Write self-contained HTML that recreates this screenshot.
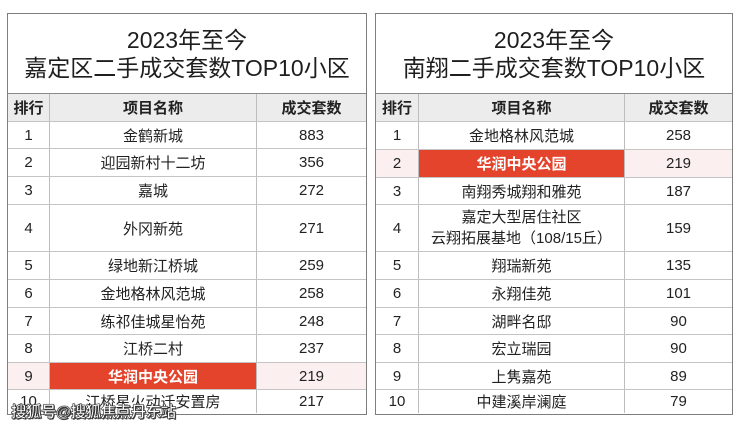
<!DOCTYPE html>
<html><head><meta charset="utf-8">
<style>
*{margin:0;padding:0;box-sizing:border-box}
html,body{width:740px;height:428px;background:#fff;overflow:hidden}
body{position:relative;font-family:"Liberation Sans","Noto Sans CJK SC",sans-serif;color:#222}
.tbl{position:absolute;top:13px;height:402px;border:1.5px solid #7d7d7d;background:#fff}
.title{position:absolute;left:0;right:0;top:0;height:80px;text-align:center;font-size:23px;line-height:28px;padding-top:12px;color:#1e1e1e;font-weight:400}
.row{position:absolute;left:0;right:0;display:flex;border-top:1px solid #c4c4c4}
.row.h{border-top:1.5px solid #8a8a8a;background:#ececec;font-weight:bold}
.c{display:flex;align-items:center;justify-content:center;text-align:center;font-size:15px;height:100%;border-right:1px solid #bdbdbd}
.c:last-child{border-right:none}
.hl{background:#fcefef}
.red{background:#e4442b;color:#fff;font-weight:bold}
.two{flex-direction:column;line-height:21px}
.wm{position:absolute;left:11px;top:400px;font-size:15.5px;font-weight:bold;color:#fff;-webkit-text-stroke:0.6px #333;text-shadow:0 0 1px #000,1px 1px 0 #444;letter-spacing:-0.5px}
</style></head><body>

<!-- LEFT TABLE -->
<div class="tbl" style="left:7px;width:360px">
  <div class="title">2023年至今<br>嘉定区二手成交套数TOP10小区</div>
  <div class="row h" style="top:79px;height:28px"><div class="c" style="width:42px">排行</div><div class="c" style="width:207px">项目名称</div><div class="c" style="flex:1">成交套数</div></div>
  <div class="row" style="top:107px;height:27px"><div class="c" style="width:42px">1</div><div class="c" style="width:207px">金鹤新城</div><div class="c" style="flex:1">883</div></div>
  <div class="row" style="top:134px;height:28px"><div class="c" style="width:42px">2</div><div class="c" style="width:207px">迎园新村十二坊</div><div class="c" style="flex:1">356</div></div>
  <div class="row" style="top:162px;height:28px"><div class="c" style="width:42px">3</div><div class="c" style="width:207px">嘉城</div><div class="c" style="flex:1">272</div></div>
  <div class="row" style="top:190px;height:47px"><div class="c" style="width:42px">4</div><div class="c" style="width:207px">外冈新苑</div><div class="c" style="flex:1">271</div></div>
  <div class="row" style="top:237px;height:28px"><div class="c" style="width:42px">5</div><div class="c" style="width:207px">绿地新江桥城</div><div class="c" style="flex:1">259</div></div>
  <div class="row" style="top:265px;height:28px"><div class="c" style="width:42px">6</div><div class="c" style="width:207px">金地格林风范城</div><div class="c" style="flex:1">258</div></div>
  <div class="row" style="top:293px;height:27px"><div class="c" style="width:42px">7</div><div class="c" style="width:207px">练祁佳城星怡苑</div><div class="c" style="flex:1">248</div></div>
  <div class="row" style="top:320px;height:28px"><div class="c" style="width:42px">8</div><div class="c" style="width:207px">江桥二村</div><div class="c" style="flex:1">237</div></div>
  <div class="row hl" style="top:348px;height:27px"><div class="c" style="width:42px">9</div><div class="c red" style="width:207px">华润中央公园</div><div class="c" style="flex:1">219</div></div>
  <div class="row" style="top:375px;height:24px"><div class="c" style="width:42px">10</div><div class="c" style="width:207px">江桥星火动迁安置房</div><div class="c" style="flex:1">217</div></div>
</div>

<!-- RIGHT TABLE -->
<div class="tbl" style="left:375px;width:358px">
  <div class="title">2023年至今<br>南翔二手成交套数TOP10小区</div>
  <div class="row h" style="top:79px;height:28px"><div class="c" style="width:43px">排行</div><div class="c" style="width:206px">项目名称</div><div class="c" style="flex:1">成交套数</div></div>
  <div class="row" style="top:107px;height:28px"><div class="c" style="width:43px">1</div><div class="c" style="width:206px">金地格林风范城</div><div class="c" style="flex:1">258</div></div>
  <div class="row hl" style="top:135px;height:28px"><div class="c" style="width:43px">2</div><div class="c red" style="width:206px">华润中央公园</div><div class="c" style="flex:1">219</div></div>
  <div class="row" style="top:163px;height:27px"><div class="c" style="width:43px">3</div><div class="c" style="width:206px">南翔秀城翔和雅苑</div><div class="c" style="flex:1">187</div></div>
  <div class="row" style="top:190px;height:47px"><div class="c" style="width:43px">4</div><div class="c two" style="width:206px"><span>嘉定大型居住社区</span><span>云翔拓展基地（108/15丘）</span></div><div class="c" style="flex:1">159</div></div>
  <div class="row" style="top:237px;height:28px"><div class="c" style="width:43px">5</div><div class="c" style="width:206px">翔瑞新苑</div><div class="c" style="flex:1">135</div></div>
  <div class="row" style="top:265px;height:28px"><div class="c" style="width:43px">6</div><div class="c" style="width:206px">永翔佳苑</div><div class="c" style="flex:1">101</div></div>
  <div class="row" style="top:293px;height:27px"><div class="c" style="width:43px">7</div><div class="c" style="width:206px">湖畔名邸</div><div class="c" style="flex:1">90</div></div>
  <div class="row" style="top:320px;height:28px"><div class="c" style="width:43px">8</div><div class="c" style="width:206px">宏立瑞园</div><div class="c" style="flex:1">90</div></div>
  <div class="row" style="top:348px;height:27px"><div class="c" style="width:43px">9</div><div class="c" style="width:206px">上隽嘉苑</div><div class="c" style="flex:1">89</div></div>
  <div class="row" style="top:375px;height:24px"><div class="c" style="width:43px">10</div><div class="c" style="width:206px">中建溪岸澜庭</div><div class="c" style="flex:1">79</div></div>
</div>

<div class="wm">搜狐号@搜狐焦点丹东站</div>
</body></html>
